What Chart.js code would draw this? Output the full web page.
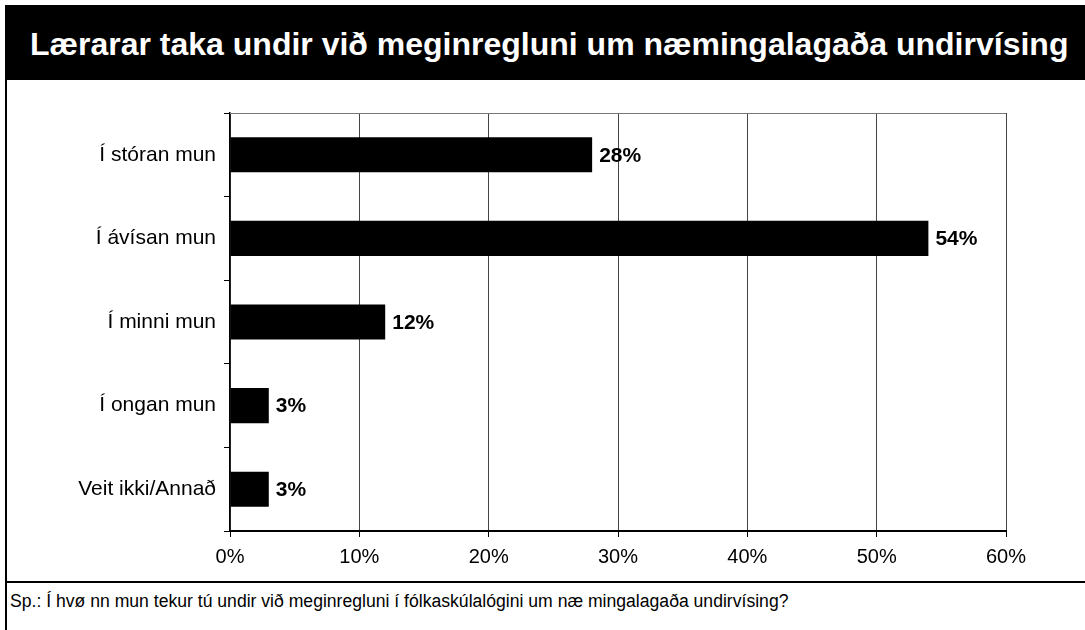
<!DOCTYPE html>
<html lang="fo">
<head>
  <meta charset="UTF-8">
  <title>Lærarar taka undir við meginregluni</title>
  <script src="https://cdn.jsdelivr.net/npm/chart.js"></script>
  <style>
    html, body { margin: 0; padding: 0; background: #fff; }
    body { width: 1085px; height: 630px; position: relative; overflow: hidden; font-family: "Liberation Sans", Arial, sans-serif; }
    #title {
      position: absolute; left: 5px; top: 5px; width: 1080px; height: 75px;
      background: #000; color: #fff; font-weight: bold; font-size: 32px;
      line-height: 78px; padding-left: 25px; box-sizing: border-box; white-space: nowrap;
    }
    #leftline { position: absolute; left: 5px; top: 80px; width: 2px; height: 550px; background: #000; }
    #footline { position: absolute; left: 5px; top: 581px; width: 1080px; height: 2px; background: #000; }
    #foot { position: absolute; left: 10px; top: 591px; font-size: 17.6px; color: #000; white-space: pre; }
    #wrap { position: absolute; left: 0; top: 0; width: 1085px; height: 581px; }
  </style>
</head>
<body>
  <div id="wrap"><canvas id="chart"></canvas></div>
  <div id="title">Lærarar taka undir við meginregluni um næmingalagaða undirvísing</div>
  <div id="leftline"></div>
  <div id="footline"></div>
  <div id="foot">Sp.: Í hvø nn mun tekur tú undir við meginregluni í fólkaskúlalógini um næ mingalagaða undirvísing?</div>

  <script>
    const categories = ["Í stóran mun", "Í ávísan mun", "Í minni mun", "Í ongan mun", "Veit ikki/Annað"];
    const values = [28, 54, 12, 3, 3];
    const xTicks = [0, 10, 20, 30, 40, 50, 60];

    // value labels at the end of each bar, plus the grey frame on top
    const barLabels = {
      id: "barLabels",
      afterDatasetsDraw(chart) {
        const ctx = chart.ctx;
        const meta = chart.getDatasetMeta(0);
        ctx.save();
        ctx.font = "bold 21px 'Liberation Sans', Arial, sans-serif";
        ctx.fillStyle = "#000";
        ctx.textAlign = "left";
        ctx.textBaseline = "middle";
        meta.data.forEach((bar, i) => {
          ctx.fillText(values[i] + "%", bar.x + 7, bar.y + 1);
        });
        const a = chart.chartArea;
        ctx.strokeStyle = "#777";
        ctx.lineWidth = 1;
        ctx.beginPath();
        ctx.moveTo(a.left, a.top + 0.5);
        ctx.lineTo(a.right, a.top + 0.5);
        ctx.stroke();
        ctx.restore();
      }
    };

    Chart.defaults.font.family = "'Liberation Sans', Arial, sans-serif";
    Chart.defaults.color = "#000";

    new Chart(document.getElementById("chart"), {
      type: "bar",
      data: {
        labels: categories,
        datasets: [{
          data: values,
          backgroundColor: "#000",
          borderWidth: 0,
          barPercentage: 0.42,
          categoryPercentage: 1
        }]
      },
      options: {
        indexAxis: "y",
        responsive: true,
        maintainAspectRatio: false,
        animation: false,
        layout: { padding: { top: 113, right: 79, left: 0, bottom: 0 } },
        plugins: { legend: { display: false }, tooltip: { enabled: false } },
        scales: {
          x: {
            min: 0, max: 60,
            afterBuildTicks(scale) { scale.ticks = xTicks.map(v => ({ value: v })); },
            afterFit(scale) { scale.height = 50; },
            ticks: { font: { size: 20 }, padding: 8, callback: v => v + "%" },
            grid: { color: "#444", lineWidth: 1, tickLength: 6, tickColor: "#000" },
            border: { color: "#000", width: 2 }
          },
          y: {
            afterFit(scale) { scale.width = 230; },
            ticks: { font: { size: 21 }, padding: 8 },
            grid: { offset: true, drawOnChartArea: false, tickLength: 6, color: "#000" },
            border: { color: "#000", width: 1.5 }
          }
        }
      },
      plugins: [barLabels]
    });
  </script>
</body>
</html>
